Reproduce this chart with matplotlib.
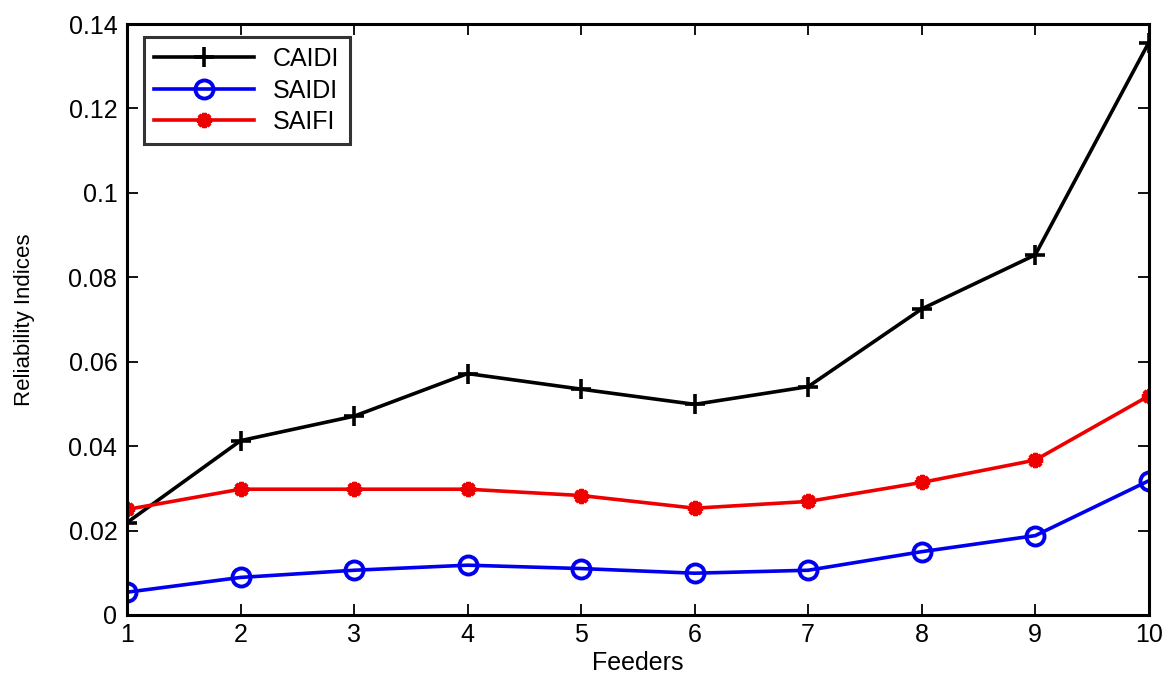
import matplotlib
matplotlib.use("Agg")
import matplotlib.pyplot as plt

plt.rcParams['font.family'] = ['Liberation Sans', 'DejaVu Sans']

feeders = [1, 2, 3, 4, 5, 6, 7, 8, 9, 10]
caidi = [0.0219, 0.0413, 0.0471, 0.0572, 0.0535, 0.0499, 0.0541, 0.0725, 0.0853, 0.1356]
saidi = [0.0054, 0.0089, 0.0106, 0.0118, 0.0110, 0.0099, 0.0106, 0.0150, 0.0188, 0.0318]
saifi = [0.0250, 0.0298, 0.0298, 0.0298, 0.0283, 0.0253, 0.0269, 0.0314, 0.0367, 0.0519]
yticks = [0, 0.02, 0.04, 0.06, 0.08, 0.10, 0.12, 0.14]
ytick_labels = ['0', '0.02', '0.04', '0.06', '0.08', '0.1', '0.12', '0.14']

fig = plt.figure(figsize=(11.71, 6.75), dpi=100)
ax = fig.add_axes([0.1085, 0.0889, 0.8725, 0.8755])

ax.plot(feeders, caidi, color='black', lw=2.6, marker='+', ms=15, mew=2.6, label='CAIDI')
ax.plot(feeders, saidi, color='#0000ee', lw=2.6, marker='o', ms=13, mew=2.8,
        mfc='none', label='SAIDI')
ax.plot(feeders, saifi, color='#ee0000', lw=2.6, marker=(8, 2, 0), ms=11, mew=3.0,
        label='SAIFI')

ax.set_xlim(1, 10)
ax.set_ylim(0, 0.14)
ax.set_xticks(feeders)
ax.set_yticks(yticks)
ax.set_yticklabels(ytick_labels)
ax.tick_params(direction='in', length=8, width=1.3, labelsize=18, top=True, right=True,
               color='black')
ax.tick_params(axis='y', pad=7)
ax.tick_params(axis='x', pad=6)
for s in ax.spines.values():
    s.set_linewidth(2.2)

ax.set_xlabel('Feeders', fontsize=18, labelpad=3)
ax.set_ylabel('Reliability Indices', fontsize=16, labelpad=24)

leg = ax.legend(loc='upper left', bbox_to_anchor=(0.017, 0.978), fontsize=18,
                frameon=True, fancybox=False, edgecolor='black', handlelength=4.0,
                borderpad=0.4, labelspacing=0.3, handletextpad=0.75, borderaxespad=0)
leg.get_frame().set_linewidth(2.2)

fig.savefig('out.png', dpi=100)
